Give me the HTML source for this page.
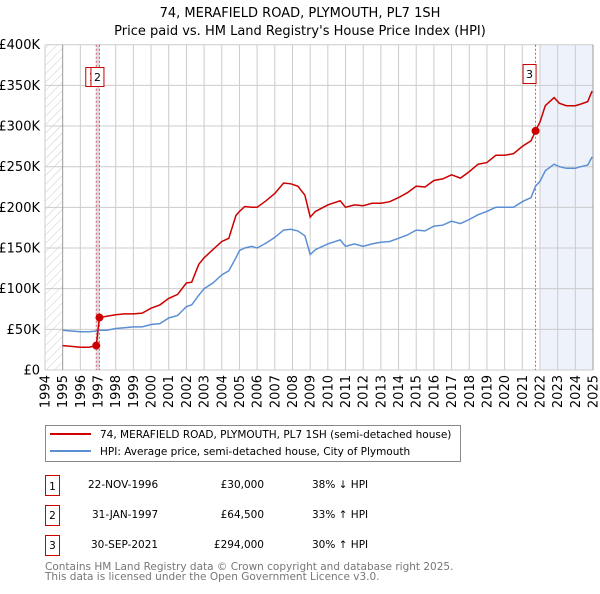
<!DOCTYPE html>
<html><head><meta charset="utf-8"><style>
body{margin:0;background:#fff;font-family:"DejaVu Sans","Liberation Sans",sans-serif;}
svg text{font-family:"DejaVu Sans","Liberation Sans",sans-serif;}
</style></head><body>
<svg id="c" width="600" height="590" xmlns="http://www.w3.org/2000/svg">
<defs><pattern id="hatch" width="6" height="6" patternUnits="userSpaceOnUse" patternTransform="rotate(45)"><line x1="0" y1="0" x2="0" y2="6" stroke="#ccc" stroke-width="1"/></pattern></defs>
<text x="300" y="17" text-anchor="middle" font-size="13">74, MERAFIELD ROAD, PLYMOUTH, PL7 1SH</text>
<text x="300" y="35" text-anchor="middle" font-size="13">Price paid vs. HM Land Registry's House Price Index (HPI)</text>
<g id="plot"></g>
<g>
<rect x="45.5" y="425.5" width="415" height="36" fill="#fff" stroke="#888"/>
<line x1="50" y1="434" x2="91" y2="434" stroke="#cc0000" stroke-width="2"/>
<text x="100" y="438" font-size="10.5">74, MERAFIELD ROAD, PLYMOUTH, PL7 1SH (semi-detached house)</text>
<line x1="50" y1="451" x2="91" y2="451" stroke="#5b8fd4" stroke-width="2"/>
<text x="100" y="455" font-size="10.5">HPI: Average price, semi-detached house, City of Plymouth</text>
</g>
<g font-size="10.5">
<rect x="45.5" y="475.5" width="14" height="20" fill="#fff" stroke="#cc0000"/><text x="52.5" y="490" text-anchor="middle">1</text>
<text x="88" y="488">22-NOV-1996</text><text x="264" y="488" text-anchor="end">£30,000</text><text x="312" y="488">38% ↓ HPI</text>
<rect x="45.5" y="505.5" width="14" height="20" fill="#fff" stroke="#cc0000"/><text x="52.5" y="519" text-anchor="middle">2</text>
<text x="92" y="518">31-JAN-1997</text><text x="264" y="518" text-anchor="end">£64,500</text><text x="312" y="518">33% ↑ HPI</text>
<rect x="45.5" y="535.5" width="14" height="20" fill="#fff" stroke="#cc0000"/><text x="52.5" y="549" text-anchor="middle">3</text>
<text x="91" y="548">30-SEP-2021</text><text x="264" y="548" text-anchor="end">£294,000</text><text x="312" y="548">30% ↑ HPI</text>
</g>
<text x="45" y="570" font-size="10.5" fill="#777">Contains HM Land Registry data © Crown copyright and database right 2025.</text>
<text x="45" y="580" font-size="10.5" fill="#777">This data is licensed under the Open Government Licence v3.0.</text>
</svg>
<script>
const dates=[1995.0,1995.5,1996,1996.5,1996.9,1997.08,1997.5,1998,1998.5,1999,1999.5,2000,2000.5,2001,2001.5,2002,2002.3,2002.7,2003,2003.5,2004,2004.4,2004.8,2005,2005.3,2005.7,2006,2006.5,2007,2007.5,2007.9,2008.3,2008.7,2009.0,2009.3,2010,2010.7,2011,2011.5,2012,2012.5,2013,2013.5,2014,2014.5,2015,2015.5,2016,2016.5,2017,2017.5,2018,2018.5,2019,2019.5,2020,2020.5,2021,2021.5,2021.75,2022,2022.3,2022.8,2023.1,2023.5,2024,2024.3,2024.7,2024.95];
const hpi=[49,48,47,47,48,49,49,51,52,53,53,56,57,64,67,78,80,92,100,107,117,122,138,147,150,152,150,156,163,172,173,171,165,142,148,155,160,152,155,152,155,157,158,162,166,172,171,177,178,183,180,185,191,195,200,200,200,207,212,226,232,245,253,250,248,248,250,252,262];
const price=[30,29,28,28,30,64.5,66,68,69,69,70,76,80,88,93,107,108,130,138,148,158,162,190,195,201,200,200,208,217,230,229,226,215,188,195,203,208,200,203,202,205,205,207,212,218,226,225,233,235,240,236,244,253,255,264,264,266,275,282,294,305,325,335,328,325,325,327,330,343];
const sales=[[1996.9,30],[1997.08,64.5],[2021.75,294]];
const yTicks=[0,50,100,150,200,250,300,350,400];
const yLabels=["£0","£50K","£100K","£150K","£200K","£250K","£300K","£350K","£400K"];
const years=[1994,1995,1996,1997,1998,1999,2000,2001,2002,2003,2004,2005,2006,2007,2008,2009,2010,2011,2012,2013,2014,2015,2016,2017,2018,2019,2020,2021,2022,2023,2024,2025];
const NS="http://www.w3.org/2000/svg";
const X0=45,X1=593,Y0=370,Y1=44.7;
const xs=t=>X0+(t-1994)*(X1-X0)/31;
const ys=v=>Y0-(v/400)*(Y0-Y1);
const g=document.getElementById('plot');
function mk(tag,a){const e=document.createElementNS(NS,tag);for(const k in a)e.setAttribute(k,a[k]);g.appendChild(e);return e;}
let e;
e=mk('rect',{x:X0,y:Y1,width:xs(1995)-X0,height:Y0-Y1,fill:'url(#hatch)'});


e=mk('rect',{x:xs(2022),y:Y1,width:X1-xs(2022),height:Y0-Y1,fill:'#eef2fb'});


e=mk('rect',{x:xs(1996.9),y:Y1,width:xs(1997.08)-xs(1996.9),height:Y0-Y1,fill:'#e4ecf8'});


yTicks.forEach((v,i)=>{
 e=mk('line',{x1:X0,x2:X1,y1:ys(v),y2:ys(v),stroke:'#ccc'});
 
 
 e=mk('text',{x:40,y:ys(v)+4.5,'text-anchor':'end','font-size':'13'});e.textContent=yLabels[i];
 
 
});
years.forEach(y=>{
 e=mk('line',{x1:xs(y),x2:xs(y),y1:Y1,y2:Y0,stroke:y===1995?'#999':'#ccc'});
 
 
 e=mk('text',{x:0,y:0,'text-anchor':'end','font-size':'13',transform:`translate(${xs(y)+4.5},375) rotate(-90)`});e.textContent=y;
 
 
});
e=mk('line',{x1:X1,x2:X1,y1:Y1,y2:Y0,stroke:'#999'});


sales.forEach(s=>{
 e=mk('line',{x1:xs(s[0]),x2:xs(s[0]),y1:Y1,y2:Y0,stroke:'#e05050','stroke-dasharray':'2,2'});
 
 
});
const pts=a=>dates.map((d,i)=>xs(d).toFixed(1)+','+ys(a[i]).toFixed(1)).join(' ');
e=mk('polyline',{points:pts(hpi),fill:'none',stroke:'#5b8fd4','stroke-width':1.5});


e=mk('polyline',{points:pts(price),fill:'none',stroke:'#cc0000','stroke-width':1.5});


sales.forEach(s=>{
 e=mk('circle',{cx:xs(s[0]),cy:ys(s[1]),r:4,fill:'#cc0000'});
 
 
});
[[1,xs(1996.9)-11,67],[2,xs(1997.08)-9,67],[3,xs(2021.75)-13,64]].forEach(b=>{
 e=mk('rect',{x:b[1]+0.5,y:b[2]+0.5,width:13,height:19,fill:'#fff',stroke:'#cc0000'});
 
 
 e=mk('text',{x:b[1]+7,y:b[2]+14,'text-anchor':'middle','font-size':'11'});e.textContent=b[0];
 
 
});
</script>
</body></html>
